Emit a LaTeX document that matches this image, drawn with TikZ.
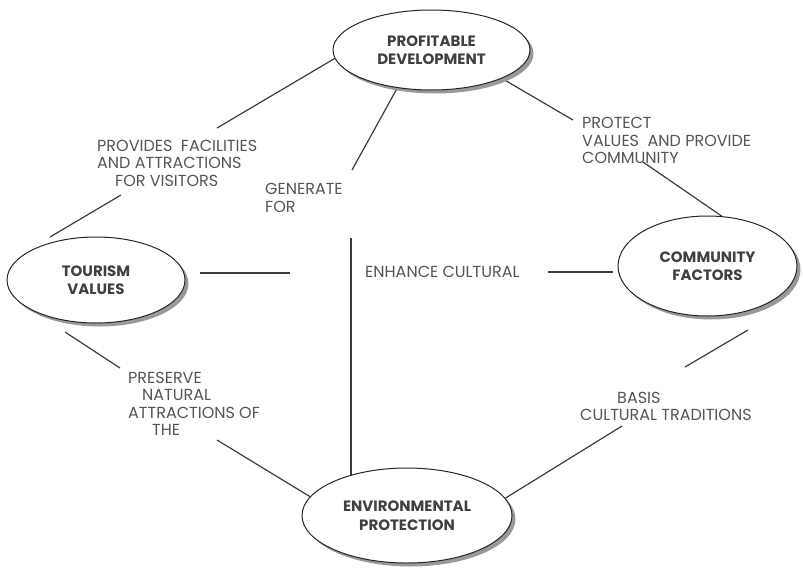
\documentclass[tikz,border=0pt]{standalone}
\usepackage{fontspec}
\setmainfont{Poppins}
\usetikzlibrary{shapes.geometric,shadows}
\pgfdeclarelayer{links}
\pgfsetlayers{links,main}
\definecolor{ink}{HTML}{3C3C3C}
\definecolor{labelgray}{HTML}{555555}
\begin{document}
\begin{tikzpicture}[x=1pt,y=-1pt,
  topic/.style={ellipse, draw=black!85, line width=1pt, fill=white, inner sep=0pt,
    align=center, font=\fontsize{15}{18.5}\selectfont\bfseries, text=black!75,
    drop shadow={shadow xshift=3.5pt, shadow yshift=-3.5pt, fill=black!40, opacity=1}},
  link/.style={draw=ink, line width=1.2pt},
  tag/.style={inner sep=0pt, align=left, anchor=west,
    font=\fontsize{16}{17.5}\selectfont, text=labelgray}]
\useasboundingbox (0,0) rectangle (803,568);

% the four themes
\node[topic, minimum width=197pt, minimum height=80pt]  (pd) at (431.5,50)  {PROFITABLE\\DEVELOPMENT};
\node[topic, minimum width=178pt, minimum height=86pt]  (tv) at (96,280)    {TOURISM\\VALUES};
\node[topic, minimum width=179pt, minimum height=100pt] (cf) at (707.5,266) {COMMUNITY\\FACTORS};
\node[topic, minimum width=210pt, minimum height=95pt]  (ep) at (407,515.5) {ENVIRONMENTAL\\PROTECTION};

% relation texts
\node[tag] (lprov) at (97,163)    {PROVIDES\ \ FACILITIES\\AND ATTRACTIONS\\\hspace*{18pt}FOR VISITORS};
\node[tag] (lgen)  at (265,198)   {GENERATE\\FOR};
\node[tag] (lprot) at (582,140.5) {PROTECT\\VALUES\ \ AND PROVIDE\\COMMUNITY};
\node[tag] (lenh)  at (365,272)   {ENHANCE CULTURAL};
\node[tag] (lpres) at (128,404)   {PRESERVE\\\hspace*{14pt}NATURAL\\ATTRACTIONS OF\\\hspace*{24pt}THE};
\node[tag] (lbas)  at (580,406.5) {\hspace*{37pt}BASIS\\CULTURAL TRADITIONS};

% loose ends of the broken connectors
\coordinate (a1) at (217,128);
\coordinate (a2) at (121,195);
\coordinate (tvA) at (50,237);
\coordinate (b1) at (352,170);
\coordinate (b2) at (351,238);
\coordinate (c1) at (573,120);
\coordinate (c2) at (643,162);
\coordinate (d0) at (200,273);
\coordinate (d1) at (290,273);
\coordinate (d2) at (548,272);
\coordinate (d3) at (613,272);
\coordinate (e0) at (65,332);
\coordinate (e1) at (120,368);
\coordinate (e2) at (217,440);
\coordinate (f0) at (748,330);
\coordinate (f1) at (685,367);
\coordinate (f2) at (622,426);

\begin{pgfonlayer}{links}
\draw[link] (pd.185) -- (a1);
\draw[link] (a2) -- (tvA);
\draw[link] (pd.228) -- (b1);
\draw[link] (b2) -- (b2 |- ep.center);
\draw[link] (pd.338) -- (c1);
\draw[link] (c2) -- (cf.74);
\draw[link] (d0) -- (d1);
\draw[link] (d2) -- (d3);
\draw[link] (e0) -- (e1);
\draw[link] (e2) -- (ep.169);
\draw[link] (f0) -- (f1);
\draw[link] (f2) -- (ep.10);
\end{pgfonlayer}
\end{tikzpicture}
\end{document}
